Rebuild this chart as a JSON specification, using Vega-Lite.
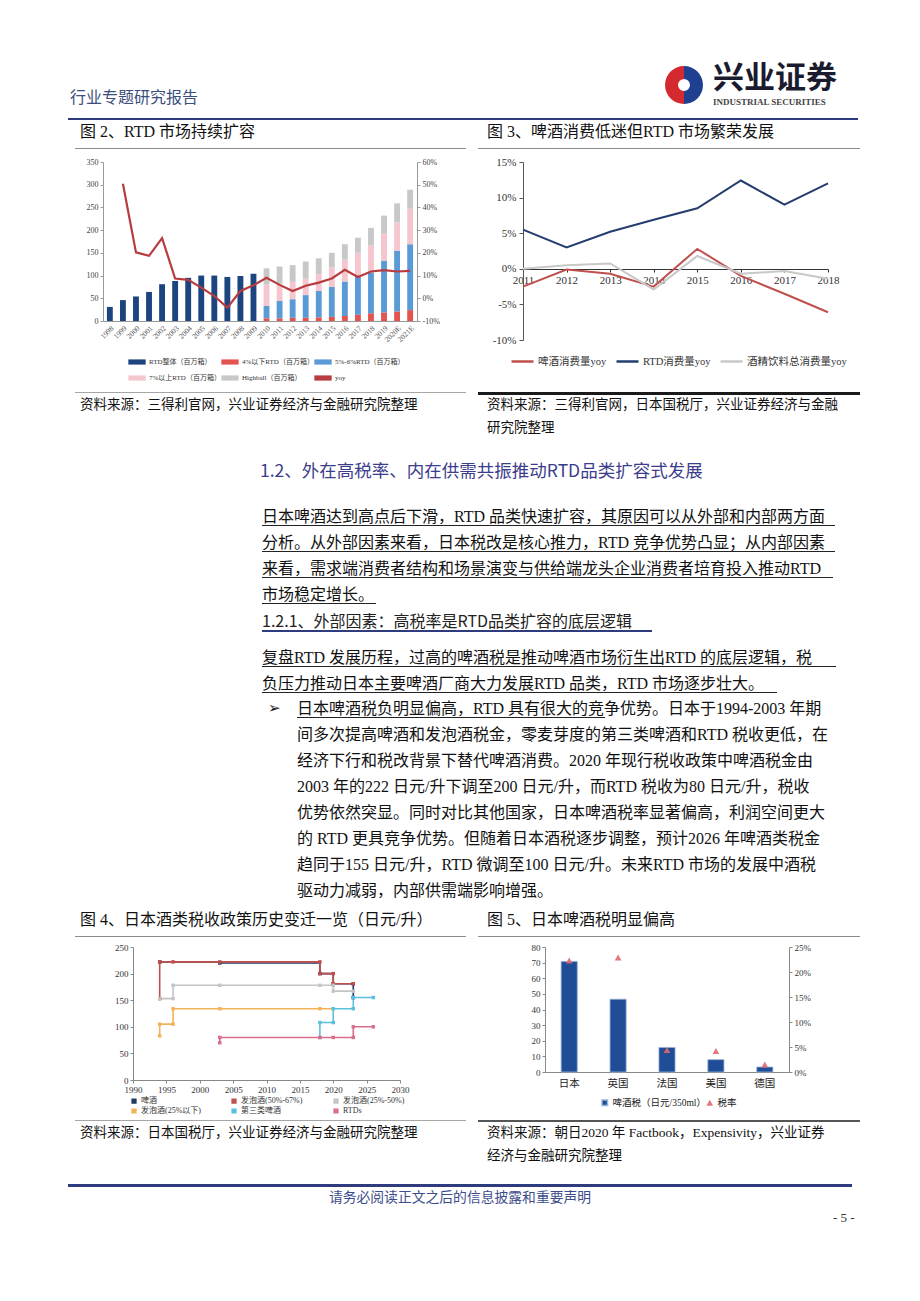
{
"$schema": "https://vega.github.io/schema/vega-lite/v6.json",
"background": "white",
"padding": 0,
"spacing": 0,
"config": {"view": {"stroke": null}, "concat": {"spacing": 0}, "font": "Liberation Serif, Noto Sans CJK SC"},
"resolve": {"scale": {"color": "independent", "shape": "independent", "theta": "independent"}, "legend": {"color": "independent", "shape": "independent"}},
"vconcat": [
{"width": 10, "height": 58, "data": {"values": []}, "mark": "point"},
{"spacing": 0, "resolve": {"scale": {"color": "independent", "theta": "independent"}}, "hconcat": [
 {"width": 68, "height": 60, "data": {"values": []}, "mark": "point"},
 {"width": 596, "height": 60, "data": {"values": []}, "mark": "point", "title": {"text": "行业专题研究报告", "orient": "bottom", "anchor": "start", "frame": "group", "baseline": "top", "offset": -27.6, "dx": 2, "fontSize": 16, "font": "Noto Sans CJK SC", "fontWeight": "normal", "color": "#3c4f7c"}},
 {"width": 40, "height": 54, "data": {"values": [{"part": "b", "v": 1}, {"part": "r", "v": 1}]}, "mark": {"type": "arc", "outerRadius": 19, "innerRadius": 6}, "encoding": {"theta": {"field": "v", "type": "quantitative"}, "color": {"field": "part", "type": "nominal", "scale": {"domain": ["b", "r"], "range": ["#1f3f91", "#d42a2f"]}, "legend": null}}},
 {"width": 160, "height": 60, "data": {"values": []}, "mark": "point", "title": {"text": "兴业证券", "subtitle": "INDUSTRIAL SECURITIES", "orient": "bottom", "anchor": "start", "frame": "group", "baseline": "top", "offset": -54, "dx": 9, "fontSize": 31, "font": "Noto Sans CJK SC", "fontWeight": "bold", "color": "#1b1b2f", "subtitleFont": "Liberation Serif", "subtitleFontSize": 9, "subtitleFontWeight": "bold", "subtitleColor": "#444444", "subtitlePadding": 3}}
]},
{"spacing": 0, "hconcat": [
 {"width": 68, "height": 2, "data": {"values": []}, "mark": "point"},
 {"width": 790, "height": 2, "data": {"values": []}, "mark": "point", "view": {"fill": "#2e3b7e", "stroke": null}}
]},
{"spacing": 0, "hconcat": [
 {"width": 75, "height": 28, "data": {"values": []}, "mark": "point"},
 {"width": 403, "height": 28, "data": {"values": []}, "mark": "point", "title": {"text": "图 2、RTD 市场持续扩容", "orient": "bottom", "anchor": "start", "frame": "group", "baseline": "top", "offset": -23.6, "dx": 5, "fontSize": 16, "font": "Liberation Serif, Noto Sans CJK SC", "fontWeight": "normal", "color": "#111111"}},
 {"width": 382, "height": 28, "data": {"values": []}, "mark": "point", "title": {"text": "图 3、啤酒消费低迷但RTD 市场繁荣发展", "orient": "bottom", "anchor": "start", "frame": "group", "baseline": "top", "offset": -23.6, "dx": 9, "fontSize": 16, "font": "Liberation Serif, Noto Sans CJK SC", "fontWeight": "normal", "color": "#111111"}}
]},
{"spacing": 0, "hconcat": [
 {"width": 75, "height": 8, "data": {"values": []}, "mark": "point"},
 {"width": 391, "height": 1, "data": {"values": []}, "mark": "point", "view": {"fill": "#8c8c8c", "stroke": null}},
 {"width": 12, "height": 1, "data": {"values": []}, "mark": "point"},
 {"width": 382, "height": 1, "data": {"values": []}, "mark": "point", "view": {"fill": "#8c8c8c", "stroke": null}}
]},
{"spacing": 0, "resolve": {"scale": {"color": "independent"}, "legend": {"color": "independent"}}, "hconcat": [
 {"width": 86, "height": 230, "data": {"values": []}, "mark": "point"},
 {"width": 314, "height": 159,
  "layer": [
   {"data": {"values": [
    {"year": "1998", "series": "RTD整体（百万箱）", "value": 31},
    {"year": "1999", "series": "RTD整体（百万箱）", "value": 46},
    {"year": "2000", "series": "RTD整体（百万箱）", "value": 54},
    {"year": "2001", "series": "RTD整体（百万箱）", "value": 64},
    {"year": "2002", "series": "RTD整体（百万箱）", "value": 81},
    {"year": "2003", "series": "RTD整体（百万箱）", "value": 88},
    {"year": "2004", "series": "RTD整体（百万箱）", "value": 95},
    {"year": "2005", "series": "RTD整体（百万箱）", "value": 100},
    {"year": "2006", "series": "RTD整体（百万箱）", "value": 100},
    {"year": "2007", "series": "RTD整体（百万箱）", "value": 97},
    {"year": "2008", "series": "RTD整体（百万箱）", "value": 99},
    {"year": "2009", "series": "RTD整体（百万箱）", "value": 104},
    {"year": "2010", "series": "4%以下RTD（百万箱）", "value": 6},
    {"year": "2010", "series": "5%-6%RTD（百万箱）", "value": 27},
    {"year": "2010", "series": "7%以上RTD（百万箱）", "value": 47},
    {"year": "2010", "series": "Highball（百万箱）", "value": 36},
    {"year": "2011", "series": "4%以下RTD（百万箱）", "value": 6},
    {"year": "2011", "series": "5%-6%RTD（百万箱）", "value": 38},
    {"year": "2011", "series": "7%以上RTD（百万箱）", "value": 38},
    {"year": "2011", "series": "Highball（百万箱）", "value": 38},
    {"year": "2012", "series": "4%以下RTD（百万箱）", "value": 7},
    {"year": "2012", "series": "5%-6%RTD（百万箱）", "value": 41},
    {"year": "2012", "series": "7%以上RTD（百万箱）", "value": 38},
    {"year": "2012", "series": "Highball（百万箱）", "value": 37},
    {"year": "2013", "series": "4%以下RTD（百万箱）", "value": 7},
    {"year": "2013", "series": "5%-6%RTD（百万箱）", "value": 50},
    {"year": "2013", "series": "7%以上RTD（百万箱）", "value": 36},
    {"year": "2013", "series": "Highball（百万箱）", "value": 38},
    {"year": "2014", "series": "4%以下RTD（百万箱）", "value": 8},
    {"year": "2014", "series": "5%-6%RTD（百万箱）", "value": 58},
    {"year": "2014", "series": "7%以上RTD（百万箱）", "value": 37},
    {"year": "2014", "series": "Highball（百万箱）", "value": 35},
    {"year": "2015", "series": "4%以下RTD（百万箱）", "value": 9},
    {"year": "2015", "series": "5%-6%RTD（百万箱）", "value": 66},
    {"year": "2015", "series": "7%以上RTD（百万箱）", "value": 43},
    {"year": "2015", "series": "Highball（百万箱）", "value": 32},
    {"year": "2016", "series": "4%以下RTD（百万箱）", "value": 11},
    {"year": "2016", "series": "5%-6%RTD（百万箱）", "value": 76},
    {"year": "2016", "series": "7%以上RTD（百万箱）", "value": 48},
    {"year": "2016", "series": "Highball（百万箱）", "value": 34},
    {"year": "2017", "series": "4%以下RTD（百万箱）", "value": 14},
    {"year": "2017", "series": "5%-6%RTD（百万箱）", "value": 86},
    {"year": "2017", "series": "7%以上RTD（百万箱）", "value": 50},
    {"year": "2017", "series": "Highball（百万箱）", "value": 33},
    {"year": "2018", "series": "4%以下RTD（百万箱）", "value": 17},
    {"year": "2018", "series": "5%-6%RTD（百万箱）", "value": 90},
    {"year": "2018", "series": "7%以上RTD（百万箱）", "value": 59},
    {"year": "2018", "series": "Highball（百万箱）", "value": 39},
    {"year": "2019", "series": "4%以下RTD（百万箱）", "value": 19},
    {"year": "2019", "series": "5%-6%RTD（百万箱）", "value": 114},
    {"year": "2019", "series": "7%以上RTD（百万箱）", "value": 59},
    {"year": "2019", "series": "Highball（百万箱）", "value": 40},
    {"year": "2020E", "series": "4%以下RTD（百万箱）", "value": 21},
    {"year": "2020E", "series": "5%-6%RTD（百万箱）", "value": 134},
    {"year": "2020E", "series": "7%以上RTD（百万箱）", "value": 62},
    {"year": "2020E", "series": "Highball（百万箱）", "value": 42},
    {"year": "2021E", "series": "4%以下RTD（百万箱）", "value": 24},
    {"year": "2021E", "series": "5%-6%RTD（百万箱）", "value": 145},
    {"year": "2021E", "series": "7%以上RTD（百万箱）", "value": 78},
    {"year": "2021E", "series": "Highball（百万箱）", "value": 42}
   ]},
    "mark": {"type": "bar"},
    "encoding": {
     "x": {"field": "year", "type": "ordinal", "scale": {"paddingInner": 0.55, "paddingOuter": 0.3}, "axis": {"title": null, "labelAngle": -45, "labelFontSize": 7.5, "labelFont": "Liberation Serif", "labelColor": "#555555", "tickSize": 0, "domainColor": "#999999", "labelPadding": 3}},
     "y": {"field": "value", "type": "quantitative", "stack": "zero", "scale": {"domain": [0, 350], "nice": false}, "axis": {"title": null, "values": [0, 50, 100, 150, 200, 250, 300, 350], "labelFontSize": 8, "labelFont": "Liberation Serif", "labelColor": "#444444", "domainColor": "#999999", "tickColor": "#999999", "tickSize": 3, "labelPadding": 2, "grid": false}},
     "color": {"field": "series", "type": "nominal", "scale": {"domain": ["RTD整体（百万箱）", "4%以下RTD（百万箱）", "5%-6%RTD（百万箱）", "7%以上RTD（百万箱）", "Highball（百万箱）", "yoy"], "range": ["#1c4580", "#e3534f", "#5b9bd5", "#f6c6cf", "#c8c8c8", "#b83b3e"]}, "legend": {"orient": "none", "legendX": 25, "legendY": 191, "direction": "horizontal", "columns": 3, "title": null, "symbolType": "M-1,-0.3H1V0.3H-1Z", "symbolSize": 300, "symbolStrokeWidth": 0, "labelFontSize": 7, "labelFont": "Liberation Serif, Noto Sans CJK SC", "labelColor": "#333333", "rowPadding": 4, "columnPadding": 0, "labelOffset": 3}},
     "order": {"field": "series", "type": "ordinal", "sort": "ascending"}
    }},
   {"data": {"values": [
    {"year": "1999", "yoy": 50.4}, {"year": "2000", "yoy": 20.2}, {"year": "2001", "yoy": 18.7}, {"year": "2002", "yoy": 26.5},
    {"year": "2003", "yoy": 8.7}, {"year": "2004", "yoy": 8.1}, {"year": "2005", "yoy": 4.7}, {"year": "2006", "yoy": 1.0},
    {"year": "2007", "yoy": -4.1}, {"year": "2008", "yoy": 3.2}, {"year": "2009", "yoy": 5.7}, {"year": "2010", "yoy": 9.0},
    {"year": "2011", "yoy": 5.9}, {"year": "2012", "yoy": 3.2}, {"year": "2013", "yoy": 5.5}, {"year": "2014", "yoy": 6.9},
    {"year": "2015", "yoy": 8.7}, {"year": "2016", "yoy": 12.5}, {"year": "2017", "yoy": 9.4}, {"year": "2018", "yoy": 11.8},
    {"year": "2019", "yoy": 12.4}, {"year": "2020E", "yoy": 11.8}, {"year": "2021E", "yoy": 12.1}
   ]},
    "mark": {"type": "line", "strokeWidth": 2.2},
    "encoding": {
     "x": {"field": "year", "type": "ordinal"},
     "y": {"field": "yoy", "type": "quantitative", "scale": {"domain": [-10, 60], "nice": false}, "axis": {"orient": "right", "title": null, "values": [-10, 0, 10, 20, 30, 40, 50, 60], "labelExpr": "datum.value + '%'", "labelFontSize": 8, "labelFont": "Liberation Serif", "labelColor": "#444444", "domainColor": "#999999", "tickColor": "#999999", "tickSize": 3, "labelPadding": 2, "grid": false}},
     "color": {"datum": "yoy"}
    }}
  ],
  "resolve": {"scale": {"y": "independent"}}
 },
 {"width": 52, "height": 1, "data": {"values": []}, "mark": "point"},
 {"width": 305, "height": 178,
  "data": {"values": [
   {"year": "2011", "series": "啤酒消费量yoy", "v": -2.5}, {"year": "2012", "series": "啤酒消费量yoy", "v": -0.1}, {"year": "2013", "series": "啤酒消费量yoy", "v": -0.7}, {"year": "2014", "series": "啤酒消费量yoy", "v": -2.5},
   {"year": "2015", "series": "啤酒消费量yoy", "v": 2.8}, {"year": "2016", "series": "啤酒消费量yoy", "v": -1.0}, {"year": "2017", "series": "啤酒消费量yoy", "v": -3.5}, {"year": "2018", "series": "啤酒消费量yoy", "v": -6.1},
   {"year": "2011", "series": "RTD消费量yoy", "v": 5.5}, {"year": "2012", "series": "RTD消费量yoy", "v": 3.0}, {"year": "2013", "series": "RTD消费量yoy", "v": 5.2}, {"year": "2014", "series": "RTD消费量yoy", "v": 6.9},
   {"year": "2015", "series": "RTD消费量yoy", "v": 8.5}, {"year": "2016", "series": "RTD消费量yoy", "v": 12.4}, {"year": "2017", "series": "RTD消费量yoy", "v": 9.0}, {"year": "2018", "series": "RTD消费量yoy", "v": 12.0},
   {"year": "2011", "series": "酒精饮料总消费量yoy", "v": 0.0}, {"year": "2012", "series": "酒精饮料总消费量yoy", "v": 0.5}, {"year": "2013", "series": "酒精饮料总消费量yoy", "v": 0.75}, {"year": "2014", "series": "酒精饮料总消费量yoy", "v": -2.9},
   {"year": "2015", "series": "酒精饮料总消费量yoy", "v": 1.8}, {"year": "2016", "series": "酒精饮料总消费量yoy", "v": -0.7}, {"year": "2017", "series": "酒精饮料总消费量yoy", "v": -0.3}, {"year": "2018", "series": "酒精饮料总消费量yoy", "v": -1.4}
  ]},
  "mark": {"type": "line", "strokeWidth": 2},
  "encoding": {
   "x": {"field": "year", "type": "ordinal", "scale": {"type": "point", "padding": 0}, "axis": {"title": null, "offset": -71, "labelAngle": 0, "labelFontSize": 11, "labelFont": "Liberation Serif", "labelColor": "#333333", "domainColor": "#333333", "tickColor": "#333333", "tickSize": 3, "labelPadding": 2, "labelFlush": false, "labelOverlap": false}},
   "y": {"field": "v", "type": "quantitative", "scale": {"domain": [-10, 15], "nice": false}, "axis": {"title": null, "values": [-10, -5, 0, 5, 10, 15], "labelExpr": "datum.value + '%'", "labelFontSize": 11, "labelFont": "Liberation Serif", "labelColor": "#333333", "domainColor": "#555555", "tickColor": "#555555", "tickSize": 4, "labelPadding": 3, "grid": false}},
   "color": {"field": "series", "type": "nominal", "sort": null, "scale": {"domain": ["啤酒消费量yoy", "RTD消费量yoy", "酒精饮料总消费量yoy"], "range": ["#c0504d", "#233e6e", "#c8c8c8"]}, "legend": {"orient": "none", "legendX": -13, "legendY": 187, "direction": "horizontal", "title": null, "symbolType": "stroke", "symbolSize": 484, "symbolStrokeWidth": 2.5, "labelFontSize": 10.5, "labelFont": "Liberation Serif, Noto Sans CJK SC", "labelColor": "#333333", "columnPadding": 4, "labelOffset": 3}}
  }
 }
]},
{"spacing": 0, "hconcat": [
 {"width": 75, "height": 3, "data": {"values": []}, "mark": "point"},
 {"width": 391, "height": 1, "data": {"values": []}, "mark": "point", "view": {"fill": "#a6a6a6", "stroke": null}},
 {"width": 12, "height": 1, "data": {"values": []}, "mark": "point"},
 {"width": 382, "height": 3, "data": {"values": []}, "mark": "point", "view": {"fill": "#1a1a1a", "stroke": null}}
]},
{"spacing": 0, "hconcat": [
 {"width": 75, "height": 46, "data": {"values": []}, "mark": "point"},
 {"width": 403, "height": 46, "data": {"values": []}, "mark": "point", "title": {"text": "资料来源：三得利官网，兴业证券经济与金融研究院整理", "orient": "bottom", "anchor": "start", "frame": "group", "baseline": "top", "offset": -43, "dx": 5, "fontSize": 13.5, "font": "Noto Sans CJK SC", "fontWeight": "normal", "color": "#111111"}},
 {"width": 382, "height": 46, "data": {"values": []}, "mark": "point", "title": {"text": ["资料来源：三得利官网，日本国税厅，兴业证券经济与金融", "研究院整理"], "lineHeight": 23, "orient": "bottom", "anchor": "start", "frame": "group", "baseline": "top", "offset": -43, "dx": 9, "fontSize": 13.5, "font": "Noto Sans CJK SC", "fontWeight": "normal", "color": "#111111"}}
]},
{"width": 920, "height": 54, "data": {"values": []}, "mark": "point", "title": {"text": "1.2、外在高税率、内在供需共振推动RTD品类扩容式发展", "orient": "bottom", "anchor": "start", "frame": "group", "baseline": "top", "offset": -31.7, "dx": 260, "fontSize": 17.5, "font": "Noto Sans CJK SC", "fontWeight": "normal", "color": "#3b3d8c"}},
{"width": 920, "height": 30, "data": {"values": []}, "mark": "point", "title": {"text": "日本啤酒达到高点后下滑，RTD 品类快速扩容，其原因可以从外部和内部两方面", "orient": "bottom", "anchor": "start", "frame": "group", "baseline": "top", "offset": -16.1, "dx": 262, "fontSize": 16, "font": "Liberation Serif, Noto Sans CJK SC", "fontWeight": "normal", "color": "#111111"}},
{"spacing": 0, "hconcat": [
 {"width": 262, "height": 1, "data": {"values": []}, "mark": "point"},
 {"width": 573, "height": 1, "data": {"values": []}, "mark": "point", "view": {"fill": "#222222", "stroke": null}}
]},
{"width": 920, "height": 25, "data": {"values": []}, "mark": "point", "title": {"text": "分析。从外部因素来看，日本税改是核心推力，RTD 竞争优势凸显；从内部因素", "orient": "bottom", "anchor": "start", "frame": "group", "baseline": "top", "offset": -16.1, "dx": 262, "fontSize": 16, "font": "Liberation Serif, Noto Sans CJK SC", "fontWeight": "normal", "color": "#111111"}},
{"spacing": 0, "hconcat": [
 {"width": 262, "height": 1, "data": {"values": []}, "mark": "point"},
 {"width": 573, "height": 1, "data": {"values": []}, "mark": "point", "view": {"fill": "#222222", "stroke": null}}
]},
{"width": 920, "height": 25, "data": {"values": []}, "mark": "point", "title": {"text": "来看，需求端消费者结构和场景演变与供给端龙头企业消费者培育投入推动RTD", "orient": "bottom", "anchor": "start", "frame": "group", "baseline": "top", "offset": -16.1, "dx": 262, "fontSize": 16, "font": "Liberation Serif, Noto Sans CJK SC", "fontWeight": "normal", "color": "#111111"}},
{"spacing": 0, "hconcat": [
 {"width": 262, "height": 1, "data": {"values": []}, "mark": "point"},
 {"width": 571, "height": 1, "data": {"values": []}, "mark": "point", "view": {"fill": "#222222", "stroke": null}}
]},
{"width": 920, "height": 25, "data": {"values": []}, "mark": "point", "title": {"text": "市场稳定增长。", "orient": "bottom", "anchor": "start", "frame": "group", "baseline": "top", "offset": -16.1, "dx": 262, "fontSize": 16, "font": "Liberation Serif, Noto Sans CJK SC", "fontWeight": "normal", "color": "#111111"}},
{"spacing": 0, "hconcat": [
 {"width": 262, "height": 1, "data": {"values": []}, "mark": "point"},
 {"width": 114, "height": 1, "data": {"values": []}, "mark": "point", "view": {"fill": "#222222", "stroke": null}}
]},
{"width": 920, "height": 26, "data": {"values": []}, "mark": "point", "title": {"text": "1.2.1、外部因素：高税率是RTD品类扩容的底层逻辑", "orient": "bottom", "anchor": "start", "frame": "group", "baseline": "top", "offset": -16.1, "dx": 262, "fontSize": 16, "font": "Noto Sans CJK SC", "fontWeight": "normal", "color": "#222222"}},
{"spacing": 0, "hconcat": [
 {"width": 262, "height": 2, "data": {"values": []}, "mark": "point"},
 {"width": 390, "height": 2, "data": {"values": []}, "mark": "point", "view": {"fill": "#2e3b7e", "stroke": null}}
]},
{"width": 920, "height": 34, "data": {"values": []}, "mark": "point", "title": {"text": "复盘RTD 发展历程，过高的啤酒税是推动啤酒市场衍生出RTD 的底层逻辑，税", "orient": "bottom", "anchor": "start", "frame": "group", "baseline": "top", "offset": -16.1, "dx": 262, "fontSize": 16, "font": "Liberation Serif, Noto Sans CJK SC", "fontWeight": "normal", "color": "#111111"}},
{"spacing": 0, "hconcat": [
 {"width": 262, "height": 1, "data": {"values": []}, "mark": "point"},
 {"width": 574, "height": 1, "data": {"values": []}, "mark": "point", "view": {"fill": "#222222", "stroke": null}}
]},
{"width": 920, "height": 25, "data": {"values": []}, "mark": "point", "title": {"text": "负压力推动日本主要啤酒厂商大力发展RTD 品类，RTD 市场逐步壮大。", "orient": "bottom", "anchor": "start", "frame": "group", "baseline": "top", "offset": -16.1, "dx": 262, "fontSize": 16, "font": "Liberation Serif, Noto Sans CJK SC", "fontWeight": "normal", "color": "#111111"}},
{"spacing": 0, "hconcat": [
 {"width": 262, "height": 1, "data": {"values": []}, "mark": "point"},
 {"width": 515, "height": 1, "data": {"values": []}, "mark": "point", "view": {"fill": "#222222", "stroke": null}}
]},
{"spacing": 0, "hconcat": [
 {"width": 297, "height": 24, "data": {"values": []}, "mark": "point", "title": {"text": "➢", "orient": "bottom", "anchor": "start", "frame": "group", "baseline": "top", "offset": -16.2, "dx": 268, "fontSize": 15, "font": "DejaVu Sans", "fontWeight": "normal", "color": "#111111"}},
 {"width": 623, "height": 24, "data": {"values": []}, "mark": "point", "title": {"text": "日本啤酒税负明显偏高，RTD 具有很大的竞争优势。日本于1994-2003 年期", "orient": "bottom", "anchor": "start", "frame": "group", "baseline": "top", "offset": -16.1, "dx": 0, "fontSize": 16, "font": "Liberation Serif, Noto Sans CJK SC", "fontWeight": "normal", "color": "#111111"}}
]},
{"spacing": 0, "hconcat": [
 {"width": 297, "height": 1, "data": {"values": []}, "mark": "point"},
 {"width": 308, "height": 1, "data": {"values": []}, "mark": "point", "view": {"fill": "#222222", "stroke": null}}
]},
{"spacing": 0, "hconcat": [
 {"width": 297, "height": 182, "data": {"values": []}, "mark": "point"},
 {"width": 623, "height": 182, "data": {"values": []}, "mark": "point", "title": {"text": ["间多次提高啤酒和发泡酒税金，零麦芽度的第三类啤酒和RTD 税收更低，在", "经济下行和税改背景下替代啤酒消费。2020 年现行税收政策中啤酒税金由", "2003 年的222 日元/升下调至200 日元/升，而RTD 税收为80 日元/升，税收", "优势依然突显。同时对比其他国家，日本啤酒税率显著偏高，利润空间更大", "的 RTD 更具竞争优势。但随着日本酒税逐步调整，预计2026 年啤酒类税金", "趋同于155 日元/升，RTD 微调至100 日元/升。未来RTD 市场的发展中酒税", "驱动力减弱，内部供需端影响增强。"], "lineHeight": 26, "orient": "bottom", "anchor": "start", "frame": "group", "baseline": "top", "offset": -173.1, "dx": 0, "fontSize": 16, "font": "Liberation Serif, Noto Sans CJK SC", "fontWeight": "normal", "color": "#111111"}}
]},
{"spacing": 0, "hconcat": [
 {"width": 75, "height": 36, "data": {"values": []}, "mark": "point"},
 {"width": 403, "height": 36, "data": {"values": []}, "mark": "point", "title": {"text": "图 4、日本酒类税收政策历史变迁一览（日元/升）", "orient": "bottom", "anchor": "start", "frame": "group", "baseline": "top", "offset": -24.1, "dx": 5, "fontSize": 16, "font": "Liberation Serif, Noto Sans CJK SC", "fontWeight": "normal", "color": "#111111"}},
 {"width": 382, "height": 36, "data": {"values": []}, "mark": "point", "title": {"text": "图 5、日本啤酒税明显偏高", "orient": "bottom", "anchor": "start", "frame": "group", "baseline": "top", "offset": -24.1, "dx": 9, "fontSize": 16, "font": "Liberation Serif, Noto Sans CJK SC", "fontWeight": "normal", "color": "#111111"}}
]},
{"spacing": 0, "hconcat": [
 {"width": 75, "height": 7, "data": {"values": []}, "mark": "point"},
 {"width": 391, "height": 1, "data": {"values": []}, "mark": "point", "view": {"fill": "#8c8c8c", "stroke": null}},
 {"width": 12, "height": 1, "data": {"values": []}, "mark": "point"},
 {"width": 382, "height": 1, "data": {"values": []}, "mark": "point", "view": {"fill": "#8c8c8c", "stroke": null}}
]},
{"spacing": 0, "resolve": {"scale": {"color": "independent", "shape": "independent"}, "legend": {"color": "independent", "shape": "independent"}}, "hconcat": [
 {"width": 114, "height": 173, "data": {"values": []}, "mark": "point"},
 {"width": 267, "height": 133,
  "data": {"values": [
   {"series": "啤酒", "year": 1994, "v": 222}, {"series": "啤酒", "year": 2003, "v": 220}, {"series": "啤酒", "year": 2018, "v": 200}, {"series": "啤酒", "year": 2020, "v": 181}, {"series": "啤酒", "year": 2023, "v": 181}, {"series": "啤酒", "year": 2023, "v": 155},
   {"series": "发泡酒(50%-67%)", "year": 1994, "v": 153}, {"series": "发泡酒(50%-67%)", "year": 1994, "v": 222}, {"series": "发泡酒(50%-67%)", "year": 1996, "v": 222}, {"series": "发泡酒(50%-67%)", "year": 2003, "v": 222}, {"series": "发泡酒(50%-67%)", "year": 2018, "v": 222}, {"series": "发泡酒(50%-67%)", "year": 2018, "v": 200}, {"series": "发泡酒(50%-67%)", "year": 2020, "v": 200}, {"series": "发泡酒(50%-67%)", "year": 2020, "v": 181}, {"series": "发泡酒(50%-67%)", "year": 2023, "v": 181},
   {"series": "发泡酒(25%-50%)", "year": 1994, "v": 153}, {"series": "发泡酒(25%-50%)", "year": 1996, "v": 153}, {"series": "发泡酒(25%-50%)", "year": 1996, "v": 178}, {"series": "发泡酒(25%-50%)", "year": 2003, "v": 178}, {"series": "发泡酒(25%-50%)", "year": 2018, "v": 178}, {"series": "发泡酒(25%-50%)", "year": 2020, "v": 178}, {"series": "发泡酒(25%-50%)", "year": 2020, "v": 167}, {"series": "发泡酒(25%-50%)", "year": 2023, "v": 167},
   {"series": "发泡酒(25%以下)", "year": 1994, "v": 83}, {"series": "发泡酒(25%以下)", "year": 1994, "v": 105}, {"series": "发泡酒(25%以下)", "year": 1996, "v": 105}, {"series": "发泡酒(25%以下)", "year": 1996, "v": 134}, {"series": "发泡酒(25%以下)", "year": 2003, "v": 134}, {"series": "发泡酒(25%以下)", "year": 2018, "v": 134}, {"series": "发泡酒(25%以下)", "year": 2020, "v": 134},
   {"series": "第三类啤酒", "year": 2018, "v": 80}, {"series": "第三类啤酒", "year": 2018, "v": 108}, {"series": "第三类啤酒", "year": 2020, "v": 108}, {"series": "第三类啤酒", "year": 2020, "v": 134}, {"series": "第三类啤酒", "year": 2023, "v": 134}, {"series": "第三类啤酒", "year": 2023, "v": 155}, {"series": "第三类啤酒", "year": 2026, "v": 155},
   {"series": "RTDs", "year": 2003, "v": 70}, {"series": "RTDs", "year": 2003, "v": 80}, {"series": "RTDs", "year": 2018, "v": 80}, {"series": "RTDs", "year": 2020, "v": 80}, {"series": "RTDs", "year": 2023, "v": 80}, {"series": "RTDs", "year": 2023, "v": 100}, {"series": "RTDs", "year": 2026, "v": 100}
  ]},
  "encoding": {
   "x": {"field": "year", "type": "quantitative", "scale": {"domain": [1990, 2030], "nice": false, "zero": false}, "axis": {"title": null, "values": [1990, 1995, 2000, 2005, 2010, 2015, 2020, 2025, 2030], "format": "d", "labelFontSize": 9, "labelFont": "Liberation Serif", "labelColor": "#333333", "domainColor": "#888888", "tickColor": "#888888", "tickSize": 3, "labelPadding": 2, "labelFlush": false, "labelOverlap": false, "grid": false}},
   "y": {"field": "v", "type": "quantitative", "scale": {"domain": [0, 250], "nice": false}, "axis": {"title": null, "values": [0, 50, 100, 150, 200, 250], "labelFontSize": 9, "labelFont": "Liberation Serif", "labelColor": "#333333", "domainColor": "#888888", "tickColor": "#888888", "tickSize": 3, "labelPadding": 2, "grid": false}},
   "color": {"field": "series", "type": "nominal", "scale": {"domain": ["啤酒", "发泡酒(50%-67%)", "发泡酒(25%-50%)", "发泡酒(25%以下)", "第三类啤酒", "RTDs"], "range": ["#1f3864", "#c0504d", "#c4c4c4", "#f2b35a", "#5bc0de", "#d9708a"]}, "legend": {"orient": "none", "legendX": -3, "legendY": 150, "direction": "horizontal", "columns": 3, "title": null, "symbolType": "square", "symbolSize": 14, "labelFontSize": 8, "labelFont": "Liberation Serif, Noto Sans CJK SC", "labelColor": "#333333", "rowPadding": 0, "columnPadding": 28, "labelOffset": 3}}
  },
  "layer": [
   {"mark": {"type": "line", "interpolate": "step-after", "strokeWidth": 1.6}},
   {"mark": {"type": "square", "size": 12, "filled": true, "opacity": 1}}
  ]
 },
 {"width": 122, "height": 1, "data": {"values": []}, "mark": "point"},
 {"width": 244, "height": 125,
  "data": {"values": [
   {"country": "日本", "tax": 70.8, "rate": 22.3},
   {"country": "英国", "tax": 46.6, "rate": 22.9},
   {"country": "法国", "tax": 15.7, "rate": 4.4},
   {"country": "美国", "tax": 7.9, "rate": 4.2},
   {"country": "德国", "tax": 3.2, "rate": 1.5}
  ]},
  "layer": [
   {"mark": {"type": "bar", "stroke": "#9ab3d8", "strokeWidth": 0.8},
    "encoding": {
     "x": {"field": "country", "type": "nominal", "sort": null, "scale": {"paddingInner": 0.67, "paddingOuter": 0.33}, "axis": {"title": null, "labelAngle": 0, "labelFontSize": 10.5, "labelFont": "Noto Sans CJK SC", "labelColor": "#222222", "tickSize": 0, "domainColor": "#888888", "labelPadding": 6}},
     "y": {"field": "tax", "type": "quantitative", "scale": {"domain": [0, 80], "nice": false}, "axis": {"title": null, "values": [0, 10, 20, 30, 40, 50, 60, 70, 80], "labelFontSize": 9, "labelFont": "Liberation Serif", "labelColor": "#333333", "domainColor": "#888888", "tickColor": "#888888", "tickSize": 3, "labelPadding": 2, "grid": false}},
     "color": {"datum": "啤酒税（日元/350ml）", "type": "nominal", "scale": {"range": ["#1f4e96"]}, "legend": {"orient": "none", "legendX": 55, "legendY": 151, "direction": "horizontal", "title": null, "symbolType": "square", "symbolSize": 30, "labelFontSize": 9.5, "labelFont": "Liberation Serif, Noto Sans CJK SC", "labelColor": "#222222", "labelOffset": 3}}
    }},
   {"mark": {"type": "point", "filled": true, "size": 45, "color": "#e06870", "opacity": 0.9},
    "encoding": {
     "x": {"field": "country", "type": "nominal", "sort": null},
     "y": {"field": "rate", "type": "quantitative", "scale": {"domain": [0, 25], "nice": false}, "axis": {"orient": "right", "title": null, "values": [0, 5, 10, 15, 20, 25], "labelExpr": "datum.value + '%'", "labelFontSize": 9, "labelFont": "Liberation Serif", "labelColor": "#333333", "domainColor": "#888888", "tickColor": "#888888", "tickSize": 3, "labelPadding": 2, "grid": false}},
     "shape": {"datum": "税率", "type": "nominal", "scale": {"range": ["triangle-up"]}, "legend": {"orient": "none", "legendX": 160, "legendY": 151, "title": null, "symbolSize": 45, "symbolFillColor": "#e06870", "symbolStrokeColor": "#e06870", "labelFontSize": 9.5, "labelFont": "Liberation Serif, Noto Sans CJK SC", "labelColor": "#222222", "labelOffset": 3}}
    }}
  ],
  "resolve": {"scale": {"y": "independent"}}
 }
]},
{"spacing": 0, "hconcat": [
 {"width": 75, "height": 3, "data": {"values": []}, "mark": "point"},
 {"width": 391, "height": 1, "data": {"values": []}, "mark": "point", "view": {"fill": "#a6a6a6", "stroke": null}},
 {"width": 12, "height": 1, "data": {"values": []}, "mark": "point"},
 {"width": 382, "height": 2, "data": {"values": []}, "mark": "point", "view": {"fill": "#555555", "stroke": null}}
]},
{"spacing": 0, "hconcat": [
 {"width": 75, "height": 48, "data": {"values": []}, "mark": "point"},
 {"width": 403, "height": 48, "data": {"values": []}, "mark": "point", "title": {"text": "资料来源：日本国税厅，兴业证券经济与金融研究院整理", "orient": "bottom", "anchor": "start", "frame": "group", "baseline": "top", "offset": -45.5, "dx": 5, "fontSize": 13.5, "font": "Noto Sans CJK SC", "fontWeight": "normal", "color": "#111111"}},
 {"width": 382, "height": 48, "data": {"values": []}, "mark": "point", "title": {"text": ["资料来源：朝日2020 年 Factbook，Expensivity，兴业证券", "经济与金融研究院整理"], "lineHeight": 23, "orient": "bottom", "anchor": "start", "frame": "group", "baseline": "top", "offset": -45.5, "dx": 9, "fontSize": 13.5, "font": "Liberation Serif, Noto Sans CJK SC", "fontWeight": "normal", "color": "#111111"}}
]},
{"width": 10, "height": 13, "data": {"values": []}, "mark": "point"},
{"spacing": 0, "hconcat": [
 {"width": 68, "height": 3, "data": {"values": []}, "mark": "point"},
 {"width": 784, "height": 3, "data": {"values": []}, "mark": "point", "view": {"fill": "#2e3b7e", "stroke": null}}
]},
{"width": 920, "height": 20, "data": {"values": []}, "mark": "point", "title": {"text": "请务必阅读正文之后的信息披露和重要声明", "orient": "bottom", "anchor": "middle", "frame": "group", "baseline": "top", "offset": -15.7, "fontSize": 13.8, "font": "Noto Sans CJK SC", "fontWeight": "normal", "color": "#3d4d8a"}},
{"width": 920, "height": 20, "data": {"values": []}, "mark": "point", "title": {"text": "- 5 -", "orient": "bottom", "anchor": "start", "frame": "group", "baseline": "top", "offset": -14.7, "dx": 833, "fontSize": 13, "font": "Liberation Serif", "fontWeight": "normal", "color": "#333333"}}
]
}
